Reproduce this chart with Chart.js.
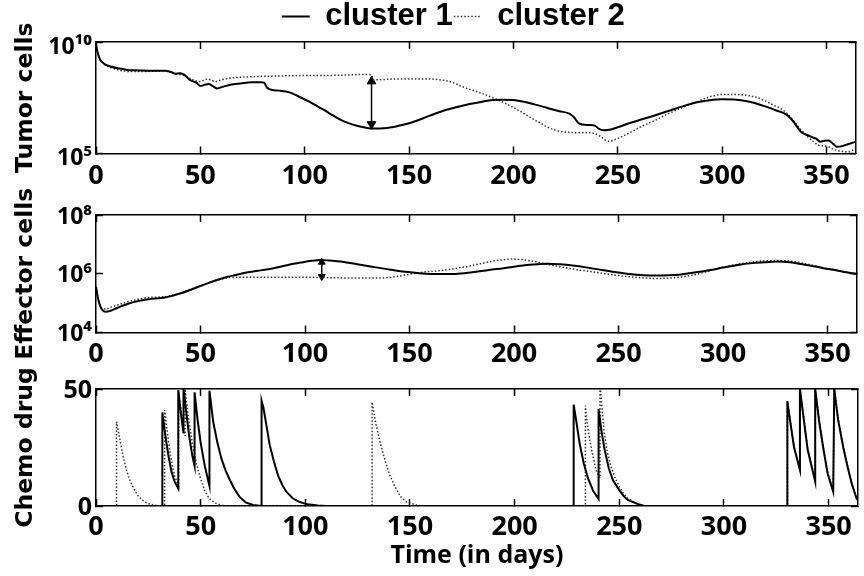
<!DOCTYPE html>
<html><head><meta charset="utf-8">
<script src="https://cdn.jsdelivr.net/npm/chart.js@4"></script>
<style>
html,body{margin:0;padding:0;background:#fff;}
#wrap{position:relative;width:864px;height:576px;background:#fff;}
#wrap canvas{position:absolute;left:0;top:0;}
</style></head><body>
<div id="wrap">
<canvas id="c1" width="864" height="576"></canvas>
<canvas id="c2" width="864" height="576"></canvas>
<canvas id="c3" width="864" height="576"></canvas>
</div>
<script>
// ---------- axis data ----------
const xTickValues = [0, 50, 100, 150, 200, 250, 300, 350];
const X_MAX = 364;
const seriesNames = ['cluster 1', 'cluster 2'];

const tumorYTicks = [1e5, 1e10];
const tumorYLabels = ['10\u2075', '10\u00B9\u2070'];
const effectorYTicks = [1e4, 1e6, 1e8];
const effectorYLabels = ['10\u2074', '10\u2076', '10\u2078'];
const chemoYTicks = [0, 50];
const chemoYLabels = ['0', '50'];
const xAxisTitle = 'Time (in days)';

// ---------- Tumor cells ----------
const tumorDays1 = [0,1,2,3.5,5,7,11,15,18,25,
  33,36,38,40,42,45,48,50,52,54,
  56,58,61,65,70,75,79,80.5,82,84,
  88,91,94,97,101,105,109,113,117,121,
  125,129,133,138,145,152,160,168,177,185,
  190,195,200,205,210,216,222,227,229,231,
  233,236,239,241,243,245,250,255,262,268,
  275,281,288,294,300,307,312,316,321,326,
  331,334,338,341,343,345,347,349,351,353,
  355,358,361,364];
const tumorCells1 = [7.1e9,2.8e9,1.6e9,1.15e9,9.1e8,7.9e8,6.5e8,5.6e8,5.4e8,5.2e8,
  5.2e8,4.5e8,3.8e8,4.0e8,3.5e8,2.0e8,1.5e8,1.07e8,1.2e8,1.3e8,
  1.05e8,8.3e7,1.0e8,1.23e8,1.41e8,1.55e8,1.58e8,1.5e8,8.9e7,7.2e7,
  6.6e7,6.0e7,5.0e7,3.6e7,2.4e7,1.5e7,9.3e6,5.4e6,3.3e6,2.3e6,
  1.74e6,1.45e6,1.32e6,1.35e6,1.74e6,2.6e6,5.0e6,9.1e6,1.5e7,2.1e7,
  2.5e7,2.6e7,2.5e7,2.1e7,1.6e7,1.12e7,7.9e6,6.0e6,4.2e6,2.4e6,
  2.0e6,1.9e6,1.78e6,1.26e6,1.1e6,1.12e6,1.5e6,2.2e6,3.5e6,5.2e6,
  8.5e6,1.3e7,2.0e7,2.45e7,2.7e7,2.6e7,2.2e7,1.8e7,1.26e7,8.5e6,
  5.4e6,2.8e6,8.9e5,6.6e5,5.4e5,4.6e5,3.4e5,3.7e5,3.8e5,2.8e5,
  2.0e5,2.2e5,2.75e5,3.4e5];
const tumorDays2 = [0,1,2,3.5,5,7,11,15,20,25,
  30,33,36,39,42,45,48,50,52,53.5,
  55,57,60,65,72,81,97,115,130,132,
  133,138,145,152,160,165,169,173,177,181,
  185,191,195,198,202,205,209,213,216,220,
  224,228,232,237,240,242,244,246,248,251,
  255,261,268,274,281,288,294,300,307,312,
  316,321,325,329,333,337,341,344,346,349,
  351,354,357,360,362,364];
const tumorCells2 = [7.1e9,2.8e9,1.6e9,1.12e9,8.7e8,7.2e8,5.5e8,4.8e8,4.7e8,4.8e8,
  5.0e8,5.2e8,4.4e8,3.6e8,3.2e8,2.3e8,1.8e8,1.7e8,2.0e8,2.2e8,
  2.0e8,1.7e8,2.0e8,2.45e8,2.7e8,2.9e8,3.1e8,3.2e8,3.5e8,3.3e8,
  2.0e8,2.1e8,2.2e8,2.2e8,2.2e8,2.0e8,1.74e8,1.26e8,8.7e7,6.6e7,
  4.9e7,2.9e7,2.0e7,1.45e7,9.1e6,6.2e6,3.7e6,2.3e6,1.58e6,1.12e6,
  9.3e5,8.7e5,8.5e5,8.5e5,7.1e5,5.6e5,4.0e5,3.5e5,4.0e5,5.2e5,
  7.9e5,1.58e6,3.1e6,6.0e6,1.15e7,2.1e7,3.5e7,4.4e7,4.4e7,4.0e7,
  3.4e7,2.2e7,1.41e7,9.1e6,4.0e6,1.41e6,5.6e5,3.2e5,2.4e5,2.2e5,
  2.0e5,1.45e5,1.26e5,1.2e5,1.32e5,1.78e5];
const tumorArrowDays = [132, 132];
const tumorArrowCells = [1.72e8, 2.07e6];

// ---------- Effector cells ----------
const effDays1 = [0,1,2,3,4.5,7,10,15,20,25,
  33,37,41,45,49,54,59,63,67,72,
  77.5,85,92,98,103,107.5,112,117,125,132,
  140,148,156,164,172,180,188,195,200,206,
  211,216,222,229,236,242,249,255,262,268,
  274,280,287,294,300,307,314,320,326,332,
  338,344,348,354,359,364];
const effCells1 = [3.6e5,1.41e5,7.9e4,5.9e4,5.1e4,5.5e4,6.8e4,9.3e4,1.17e5,1.35e5,
  1.55e5,1.82e5,2.2e5,2.8e5,3.6e5,4.9e5,6.5e5,7.9e5,9.1e5,1.1e6,
  1.26e6,1.55e6,2.0e6,2.4e6,2.75e6,2.95e6,2.8e6,2.6e6,2.1e6,1.74e6,
  1.41e6,1.17e6,1.02e6,9.8e5,9.8e5,1.12e6,1.35e6,1.55e6,1.74e6,2.0e6,
  2.1e6,2.2e6,2.1e6,1.86e6,1.58e6,1.35e6,1.12e6,9.8e5,8.9e5,8.7e5,
  8.9e5,9.5e5,1.12e6,1.35e6,1.62e6,2.0e6,2.3e6,2.45e6,2.6e6,2.45e6,
  2.1e6,1.78e6,1.55e6,1.32e6,1.12e6,9.8e5];
const effDays2 = [0,1,2,3,4.5,7,10,15,20,25,
  33,37,41,45,49,54,59,64,72,85,
  100,110,120,130,137,143,148,153,158,164,
  170,177,184,190,195,199,204,210,216,222,
  229,236,242,249,255,262,268,274,280,287,
  294,300,307,314,320,326,332,338,344,348,
  354,359,364];
const effCells2 = [3.6e5,1.41e5,8.3e4,6.6e4,6.3e4,7.2e4,8.5e4,1.1e5,1.35e5,1.55e5,
  1.66e5,1.9e5,2.2e5,2.9e5,3.7e5,5.0e5,6.3e5,7.4e5,7.6e5,7.6e5,
  7.6e5,7.4e5,7.2e5,7.1e5,7.2e5,7.9e5,9.1e5,1.05e6,1.17e6,1.26e6,
  1.45e6,1.74e6,2.2e6,2.7e6,3.0e6,3.16e6,3.0e6,2.6e6,2.1e6,1.74e6,
  1.41e6,1.2e6,1.05e6,8.9e5,7.9e5,7.2e5,6.9e5,7.1e5,7.8e5,9.5e5,
  1.29e6,1.66e6,2.1e6,2.5e6,2.75e6,2.8e6,2.7e6,2.3e6,1.86e6,1.58e6,
  1.35e6,1.12e6,9.8e5];
const effArrowDays = [108, 108];
const effArrowCells = [2.48e6, 8.05e5];

// ---------- Chemo drug ----------
const chemoDays1 = [0,31.7,31.7,33,34.5,36,37.5,39.3,39.3,40.5,
  41.8,41.8,43,44.5,46,47.1,47.1,48.5,50,52,
  54.2,54.2,56,58,60,62,64,66,68.5,71.5,75,
  79.1,79.1,80,81.5,83,85,87,89,91,94,97,101,106,110,
  228.2,228.2,229.5,231,233,235,237.5,240.1,240.1,241.5,243,245,247,249.9,252,254,258.6,262,
  330.3,330.3,331.5,333.5,336.3,336.3,338,340,343.6,343.6,345.5,347.4,349.5,352.2,352.7,354.5,357,359,361,363.3,365];
const chemoDose1 = [0,0,40,31,22,15,10.5,7.5,49.5,40,
  31,50,41,30,21.5,17,48.6,37,27,17,
  8.6,49.3,36,27,20,15,11,7.5,4,1.5,0.4,
  0,45,42,34,26,19,13,9,6,3.3,1.8,0.7,0.2,0,
  0,43.3,36,27,18.3,12,6.5,3,41.4,32,24,16,11,6.9,4.3,2.6,0.9,0,
  0,44.7,37,25,15.4,50,38,24,10.4,50,36,25,14,6.1,50,37,25,17,9.7,3.3,1.5];
const chemoDays2 = [0,9.8,9.8,11.5,13,14.5,16.2,18,20,22,24,27,30,
  32.8,32.8,34,35.5,37.5,39.5,39.5,41,42.6,42.6,44,46,48,50,52,54,57,60,63,
  131.9,131.9,133.5,135.5,137.6,140,142.8,145.5,148,153,156,
  233.8,233.8,235,236.5,238.8,240.8,240.8,242.8,244.5,246,248,250,252,254,258.6,262,
  330.3,330.3,331.5,333.5,336.3,336.3,338,340,343.6,343.6,345.5,347.4,349.5,352.2,352.7,354.5,357,359,361,363.3,365];
const chemoDose2 = [0,0,36.1,28,21,15.5,11,7.5,4.5,2.6,1.4,0.5,0,
  0,41,32,22,13,8.5,49,38,30,50,39,27,18,11.5,6.5,3.3,1.2,0.3,0,
  0,44.4,36,28,21,14,8.3,4,1.9,0.4,0,
  0,42.9,33,25.4,15.4,12,52,31,22,17,12,8.3,5.3,3.3,0.9,0,
  0,45,37.5,25.5,15.8,50,38.5,24.5,10.8,50,36.5,25.5,14.5,6.4,50,37.5,25.5,17.5,10,3.5,1.6];

// ---------- helpers ----------
const BLACK = '#000';
const pts = (xs, ys) => xs.map((x, i) => ({ x: x, y: ys[i] }));
const solidStyle = { borderColor: BLACK, borderWidth: 2, borderDash: [] };
const dottedStyle = { borderColor: '#333', borderWidth: 1.5, borderDash: [1.5, 2] };

function lineDs(label, data, style, smooth) {
  return Object.assign({
    label: label, data: data, xAxisID: 'x', yAxisID: 'y',
    pointRadius: 0, fill: false, tension: smooth ? 0.4 : 0,
    cubicInterpolationMode: smooth ? 'monotone' : 'default'
  }, style);
}
function arrowDs(data, radius) {
  return {
    label: 'arrow', data: data, xAxisID: 'x', yAxisID: 'y',
    borderColor: BLACK, borderWidth: 1.5, backgroundColor: BLACK,
    pointStyle: 'triangle', pointRadius: radius, pointRotation: [0, 180],
    pointBackgroundColor: BLACK, pointBorderColor: BLACK, pointBorderWidth: 1
  };
}

function makeScales(o) {
  const grid = { drawOnChartArea: false, drawTicks: true, tickLength: -7, tickWidth: 1.5, tickColor: BLACK };
  const border = { display: true, color: BLACK, width: 1.5 };
  const setX = s => { s.ticks = xTickValues.map(v => ({ value: v })); };
  const setY = s => { s.ticks = o.yTicks.map(v => ({ value: v })); };
  return {
    x: {
      type: 'linear', position: 'bottom', min: 0, max: X_MAX, afterBuildTicks: setX,
      ticks: { autoSkip: false, maxRotation: 0, color: BLACK, padding: o.xPad,
        font: { family: "'Open Sans', 'DejaVu Sans', sans-serif", size: 27, weight: 'bold' },
        callback: v => String(v) },
      grid: grid, border: border,
      title: o.xTitle ? { display: true, text: o.xTitle, color: BLACK,
        font: { family: "'Open Sans', 'DejaVu Sans', sans-serif", size: 25, weight: 'bold', lineHeight: 1.2 },
        padding: { top: 0, bottom: 5 } } : { display: false },
      afterFit: s => { s.height = o.xHeight; }
    },
    xTop: {
      type: 'linear', position: 'top', min: 0, max: X_MAX, afterBuildTicks: setX,
      ticks: { display: false }, grid: grid, border: border,
      afterFit: s => { s.height = 0; }
    },
    y: {
      type: o.yType, position: 'left', min: o.yMin, max: o.yMax, afterBuildTicks: setY,
      ticks: { autoSkip: false, color: BLACK, padding: 11, labelOffset: o.yLabelOffset,
        font: { family: "'Open Sans', 'DejaVu Sans', sans-serif", size: o.yFont, weight: 'bold' },
        callback: (v, i) => o.yLabels[i] },
      grid: grid, border: border,
      title: { display: true, text: o.yTitle, color: BLACK,
        font: { family: "'DejaVu Sans', sans-serif", size: 23.5, weight: 'bold', lineHeight: 1 },
        padding: { top: 14, bottom: 0 } },
      afterFit: s => { s.width = 96; }
    },
    yRight: {
      type: o.yType, position: 'right', min: o.yMin, max: o.yMax, afterBuildTicks: setY,
      ticks: { display: false }, grid: grid, border: border,
      afterFit: s => { s.width = 0; }
    }
  };
}

function baseOptions(padding, scales, legend) {
  return {
    responsive: false, animation: false, devicePixelRatio: 1,
    layout: { padding: padding },
    scales: scales,
    plugins: { legend: legend || { display: false }, tooltip: { enabled: false } }
  };
}

// ---------- chart 1: tumor cells (with legend) ----------
const legendOpts = {
  display: true, position: 'top', align: 'center', fullSize: true,
  labels: {
    usePointStyle: true, pointStyleWidth: 28, padding: 1, color: BLACK,
    font: { family: "'Liberation Sans', Arial, sans-serif", size: 31, weight: 'bold' },
    generateLabels: () => [
      { text: '', pointStyle: 'line', strokeStyle: 'transparent', fillStyle: 'transparent', lineWidth: 0, hidden: false },
      { text: seriesNames[0], pointStyle: 'line', strokeStyle: BLACK, fillStyle: 'transparent', lineWidth: 2, lineDash: [], hidden: false, datasetIndex: 0 },
      { text: seriesNames[1], pointStyle: 'line', strokeStyle: '#333', fillStyle: 'transparent', lineWidth: 1.5, lineDash: [1.5, 2], hidden: false, datasetIndex: 1 }
    ]
  }
};

new Chart(document.getElementById('c1'), {
  type: 'line',
  data: { datasets: [
    lineDs(seriesNames[0], pts(tumorDays1, tumorCells1), solidStyle, true),
    lineDs(seriesNames[1], pts(tumorDays2, tumorCells2), dottedStyle, true),
    arrowDs(pts(tumorArrowDays, tumorArrowCells), 5)
  ] },
  options: baseOptions({ top: 0, left: 0, right: 2, bottom: 382.5 },
    makeScales({ yType: 'logarithmic', yMin: 1e5, yMax: 1e10, yTicks: tumorYTicks, yLabels: tumorYLabels,
      yTitle: 'Tumor cells', yLabelOffset: 5, yFont: 23, xPad: 14, xHeight: 40 }),
    legendOpts)
});

// ---------- chart 2: effector cells ----------
new Chart(document.getElementById('c2'), {
  type: 'line',
  data: { datasets: [
    lineDs(seriesNames[0], pts(effDays1, effCells1), solidStyle, true),
    lineDs(seriesNames[1], pts(effDays2, effCells2), dottedStyle, true),
    arrowDs(pts(effArrowDays, effArrowCells), 4)
  ] },
  options: baseOptions({ top: 215, left: 0, right: 2, bottom: 203.5 },
    makeScales({ yType: 'logarithmic', yMin: 1e4, yMax: 1e8, yTicks: effectorYTicks, yLabels: effectorYLabels,
      yTitle: 'Effector cells', yLabelOffset: 2, yFont: 23, xPad: 13, xHeight: 40 }))
});

// ---------- chart 3: chemo drug ----------
new Chart(document.getElementById('c3'), {
  type: 'line',
  data: { datasets: [
    lineDs(seriesNames[0], pts(chemoDays1, chemoDose1), solidStyle, false),
    lineDs(seriesNames[1], pts(chemoDays2, chemoDose2), dottedStyle, false)
  ] },
  options: baseOptions({ top: 389, left: 0, right: 2, bottom: 0 },
    makeScales({ yType: 'linear', yMin: 0, yMax: 50, yTicks: chemoYTicks, yLabels: chemoYLabels,
      yTitle: 'Chemo drug', yLabelOffset: 2, yFont: 25, xPad: 12, xHeight: 70, xTitle: xAxisTitle }))
});
</script>
</body></html>
